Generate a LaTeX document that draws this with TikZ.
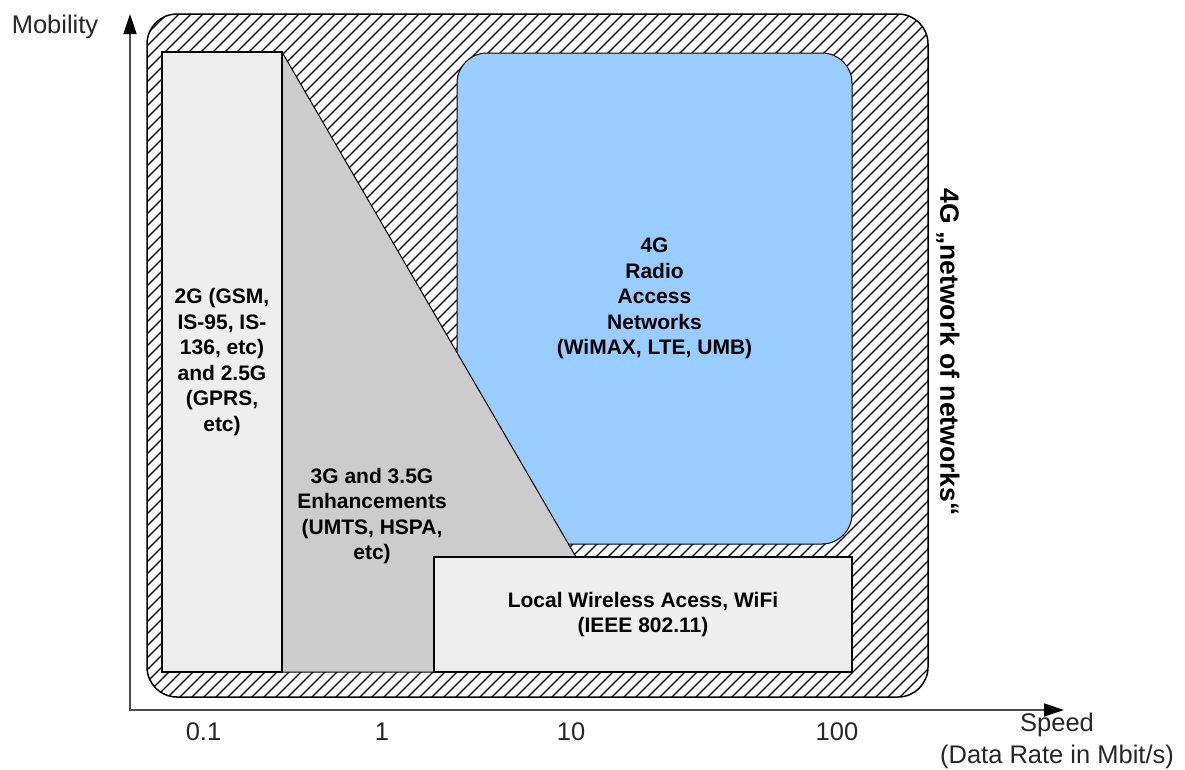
\documentclass[tikz,border=0pt]{standalone}
\usepackage{fontspec}
\setmainfont{Liberation Sans}
\usetikzlibrary{arrows.meta}
\definecolor{boxgray}{HTML}{EEEEEE}
\definecolor{midgray}{HTML}{CCCCCC}
\definecolor{radioblue}{HTML}{99CCFF}
\begin{document}
\begin{tikzpicture}[x=1pt,y=-1pt,
  boldlbl/.style={font=\fontsize{21}{25.5}\selectfont\bfseries, align=center, text=black},
  axislbl/.style={font=\fontsize{25.5}{30}\selectfont, inner sep=0pt, text=black!85},
  region/.style={draw=black, line width=1.2pt, inner sep=0pt},
  hatchline/.style={line width=1.3pt},
  axistip/.tip={Triangle[length=20pt,width=13pt,color=black]},
  axisline/.style={draw=black!70, line width=1.6pt, axistip-axistip}]
\useasboundingbox (0,0) rectangle (1185,769);

% hatched "network of networks" frame
\begin{scope}
  \clip[rounded corners=30pt] (147,14) rectangle (928,697);
  \foreach \a in {-540,-528,...,936}
    \draw[hatchline] (\a,697) -- ++(683,-683);
\end{scope}
\draw[line width=1.5pt, rounded corners=30pt] (147,14) rectangle (928,697);

% 4G radio access networks
\node[region, line width=1pt, fill=radioblue, rounded corners=30pt,
      minimum width=395pt, minimum height=491pt, boldlbl]
  (g4) at (654.5,298.5) {4G\\Radio\\Access\\Networks\\(WiMAX, LTE, UMB)};

% 3G / 3.5G region
\coordinate (t1) at (282,52);
\coordinate (t2) at (576,557);
\coordinate (t3) at (434,557);
\coordinate (t4) at (434,672);
\coordinate (t5) at (282,672);
\filldraw[fill=midgray, draw=black, line width=1pt]
  (t1) -- (t2) -- (t3) -- (t4) -- (t5) -- cycle;
\node[boldlbl] (g3) at (372,516) {3G and 3.5G\\Enhancements\\(UMTS, HSPA,\\etc)};

% 2G / 2.5G
\node[region, fill=boxgray, minimum width=120pt, minimum height=620pt, boldlbl]
  (g2) at (222,362) {2G (GSM,\\IS-95, IS-\\136, etc)\\and 2.5G\\(GPRS,\\etc)};

% local wireless access
\node[region, fill=boxgray, minimum width=418pt, minimum height=115pt, boldlbl]
  (wifi) at (643,614.5) {Local Wireless Acess, WiFi\\(IEEE 802.11)};

% frame label
\node[rotate=-90, font=\fontsize{26.5}{30}\selectfont\bfseries, inner sep=0pt]
  (nn) at (948,352) {4G „network of networks“};

% axes
\coordinate (ytop) at (130,14);
\coordinate (origin) at (130,710);
\coordinate (xend) at (1064,710);
\draw[axisline] (ytop) -- (origin) -- (xend);

\node[axislbl] (mob) at (55,27) {Mobility};
\node[axislbl] (x1) at (203.5,732) {0.1};
\node[axislbl] (x2) at (382,732) {1};
\node[axislbl] (x3) at (571,732) {10};
\node[axislbl] (x4) at (837,732) {100};
\node[axislbl] (spd) at (1057,725) {Speed};
\node[axislbl] (rate) at (1057,757) {(Data Rate in Mbit/s)};
\end{tikzpicture}
\end{document}
